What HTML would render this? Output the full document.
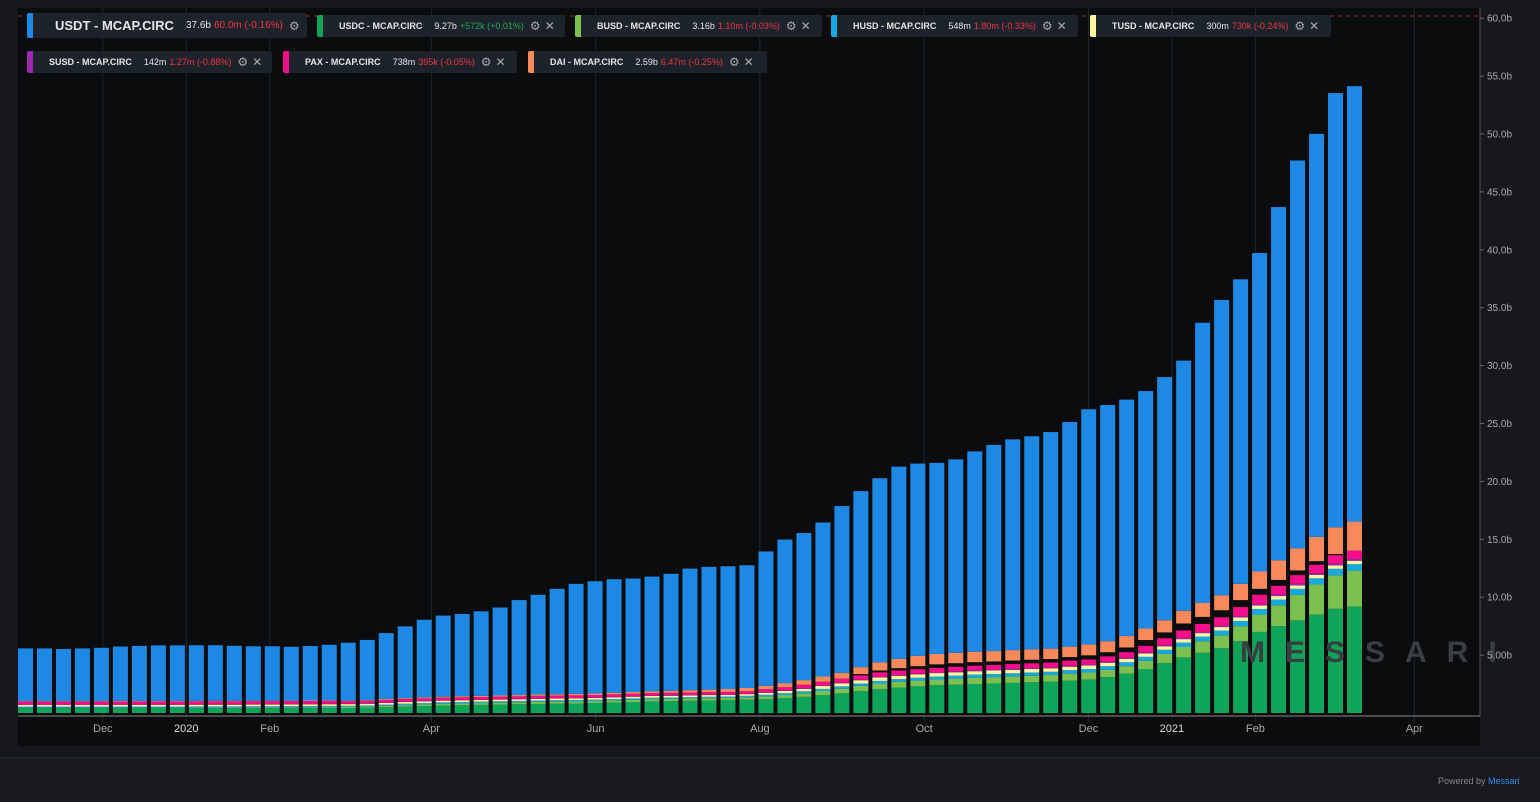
<!DOCTYPE html>
<html><head><meta charset="utf-8"><style>
body{margin:0;width:1540px;height:802px;background:#16181d;font-family:"Liberation Sans",sans-serif;overflow:hidden;position:relative}
.lg{position:absolute;height:22px;background:#1c232b;border-radius:2px;display:flex;align-items:center;font-size:9px;font-weight:bold;color:#e6e6e6;white-space:nowrap}
.lg .c{width:6px;height:100%;border-radius:2px 0 0 2px;margin-right:16px}
.lg .v{font-weight:normal;margin-left:12px}
.lg .r{color:#f23645;font-weight:normal;margin-left:3px}
.lg .g{color:#22ab5a;font-weight:normal;margin-left:3px}
.lg .i{color:#aaa;margin-left:6px;font-size:12px;font-weight:normal}
</style></head><body>
<svg id="chart" width="1540" height="802" style="position:absolute;left:0;top:0">
<rect x="18" y="8" width="1462" height="738" fill="#0b0c0e"/>
<rect x="0" y="758" width="1540" height="44" fill="#17191e"/>
<line x1="0" y1="758" x2="1540" y2="758" stroke="#2a2e36"/>
<g id="grid"></g>
<g id="bars"></g>
<text x="1240" y="662" font-size="30" fill="#3a3d42" letter-spacing="20" font-weight="bold">MESSARI</text>
<line x1="18" y1="16" x2="1480" y2="16" stroke="#b22a2a" stroke-dasharray="4,4"/>
<line x1="18" y1="716" x2="1480" y2="716" stroke="#888"/>
<line x1="1480" y1="8" x2="1480" y2="716" stroke="#555"/>
<g id="xt"></g><g id="yt"></g>
<text x="1438" y="784" font-size="9" fill="#888">Powered by <tspan fill="#2d8cf0">Messari</tspan></text>
</svg>

<div class="lg" style="left:27px;top:13px;width:280px;height:25px"><span class="c" style="background:#1e88e5"></span><span style="font-size:13px;margin-left:6px">USDT - MCAP.CIRC</span><span class="v" style="font-size:10px">37.6b</span><span class="r" style="font-size:10px">60.0m (-0.16%)</span><span class="i">⚙</span></div>
<div class="lg" style="left:317px;top:15px;width:248px"><span class="c" style="background:#0ea55a"></span>USDC - MCAP.CIRC<span class="v">9.27b</span><span class="g">+572k (+0.01%)</span><span class="i">⚙</span><span class="i" style="margin-left:4px">✕</span></div>
<div class="lg" style="left:575px;top:15px;width:247px"><span class="c" style="background:#7cc04f"></span>BUSD - MCAP.CIRC<span class="v">3.16b</span><span class="r">1.10m (-0.03%)</span><span class="i">⚙</span><span class="i" style="margin-left:4px">✕</span></div>
<div class="lg" style="left:831px;top:15px;width:247px"><span class="c" style="background:#15a9e0"></span>HUSD - MCAP.CIRC<span class="v">548m</span><span class="r">1.80m (-0.33%)</span><span class="i">⚙</span><span class="i" style="margin-left:4px">✕</span></div>
<div class="lg" style="left:1090px;top:15px;width:241px"><span class="c" style="background:#fff59d"></span>TUSD - MCAP.CIRC<span class="v">300m</span><span class="r">730k (-0.24%)</span><span class="i">⚙</span><span class="i" style="margin-left:4px">✕</span></div>
<div class="lg" style="left:27px;top:51px;width:245px"><span class="c" style="background:#9c27b0"></span>SUSD - MCAP.CIRC<span class="v">142m</span><span class="r">1.27m (-0.88%)</span><span class="i">⚙</span><span class="i" style="margin-left:4px">✕</span></div>
<div class="lg" style="left:283px;top:51px;width:234px"><span class="c" style="background:#f50d8a"></span>PAX - MCAP.CIRC<span class="v">738m</span><span class="r">395k (-0.05%)</span><span class="i">⚙</span><span class="i" style="margin-left:4px">✕</span></div>
<div class="lg" style="left:528px;top:51px;width:239px"><span class="c" style="background:#f7895a"></span>DAI - MCAP.CIRC<span class="v">2.59b</span><span class="r">6.47m (-0.25%)</span><span class="i">⚙</span><span class="i" style="margin-left:4px">✕</span></div>

<script>
const NS="http://www.w3.org/2000/svg";
const weeks=71; // weekly points starting 2019-11-01
const usdc=[0.42,0.42,0.42,0.42,0.42,0.42,0.42,0.42,0.42,0.42,0.42,0.42,0.42,0.42,0.42,0.42,0.42,0.42,0.45,0.5,0.55,0.6,0.65,0.68,0.7,0.72,0.75,0.78,0.8,0.82,0.85,0.9,0.95,1.0,1.02,1.05,1.08,1.1,1.15,1.2,1.3,1.4,1.55,1.7,1.9,2.05,2.2,2.3,2.4,2.45,2.5,2.55,2.6,2.65,2.7,2.8,2.9,3.1,3.4,3.8,4.3,4.8,5.2,5.6,6.2,7.0,7.5,8.0,8.5,9.0,9.2];
const busd=[0.03,0.03,0.03,0.03,0.03,0.04,0.04,0.04,0.04,0.05,0.05,0.05,0.06,0.06,0.07,0.08,0.09,0.1,0.1,0.12,0.13,0.14,0.15,0.15,0.16,0.17,0.17,0.18,0.18,0.18,0.18,0.19,0.19,0.2,0.2,0.2,0.2,0.2,0.21,0.22,0.25,0.3,0.35,0.4,0.45,0.5,0.5,0.5,0.5,0.52,0.55,0.55,0.56,0.57,0.58,0.6,0.6,0.62,0.65,0.7,0.8,0.9,1.0,1.1,1.3,1.5,1.8,2.2,2.6,2.9,3.1];
const husd=[0.1,0.1,0.1,0.1,0.1,0.1,0.1,0.1,0.1,0.1,0.1,0.1,0.1,0.1,0.1,0.1,0.1,0.1,0.1,0.1,0.12,0.12,0.12,0.12,0.12,0.12,0.12,0.12,0.12,0.12,0.12,0.12,0.12,0.12,0.12,0.12,0.12,0.12,0.12,0.15,0.16,0.17,0.18,0.2,0.2,0.22,0.22,0.24,0.25,0.25,0.26,0.27,0.27,0.28,0.28,0.3,0.3,0.32,0.33,0.35,0.36,0.38,0.4,0.42,0.45,0.48,0.5,0.52,0.53,0.55,0.55];
const tusd=[0.15,0.15,0.15,0.15,0.15,0.15,0.15,0.15,0.15,0.15,0.15,0.15,0.15,0.15,0.15,0.15,0.15,0.15,0.15,0.15,0.15,0.15,0.15,0.15,0.15,0.15,0.15,0.15,0.15,0.15,0.15,0.15,0.15,0.15,0.15,0.15,0.15,0.15,0.15,0.18,0.2,0.22,0.25,0.27,0.28,0.3,0.3,0.3,0.3,0.3,0.3,0.3,0.3,0.3,0.3,0.3,0.3,0.3,0.3,0.3,0.3,0.3,0.3,0.3,0.3,0.3,0.3,0.3,0.3,0.3,0.3];
const susd=[0.03,0.03,0.03,0.03,0.03,0.03,0.03,0.03,0.03,0.03,0.03,0.03,0.03,0.03,0.03,0.03,0.03,0.03,0.03,0.03,0.03,0.03,0.03,0.03,0.03,0.03,0.03,0.03,0.03,0.03,0.03,0.03,0.03,0.03,0.03,0.03,0.03,0.03,0.03,0.05,0.05,0.05,0.05,0.05,0.05,0.05,0.05,0.05,0.05,0.08,0.08,0.08,0.08,0.08,0.08,0.08,0.08,0.08,0.08,0.1,0.1,0.1,0.1,0.1,0.1,0.14,0.14,0.14,0.14,0.14,0.14];
const pax=[0.25,0.25,0.25,0.25,0.25,0.25,0.25,0.25,0.25,0.25,0.25,0.25,0.25,0.25,0.25,0.25,0.25,0.22,0.22,0.22,0.22,0.22,0.22,0.22,0.22,0.22,0.22,0.22,0.22,0.22,0.22,0.22,0.22,0.22,0.22,0.22,0.22,0.22,0.22,0.25,0.27,0.3,0.32,0.35,0.38,0.4,0.4,0.4,0.4,0.4,0.4,0.4,0.42,0.42,0.42,0.45,0.45,0.48,0.5,0.55,0.6,0.65,0.7,0.75,0.8,0.8,0.75,0.75,0.74,0.74,0.74];
const gap=[0,0,0,0,0,0,0,0,0,0,0,0,0,0,0,0,0,0,0,0,0,0,0,0,0,0,0,0,0,0,0,0,0,0,0,0,0,0,0,0,0,0,0,0,0.1,0.15,0.2,0.25,0.3,0.3,0.3,0.3,0.3,0.3,0.3,0.3,0.35,0.35,0.4,0.5,0.5,0.6,0.6,0.6,0.6,0.5,0.5,0.4,0.3,0.1,0];
const dai=[0.05,0.05,0.05,0.05,0.05,0.05,0.05,0.05,0.05,0.05,0.05,0.05,0.05,0.05,0.05,0.05,0.05,0.05,0.06,0.08,0.08,0.09,0.09,0.1,0.1,0.1,0.11,0.12,0.12,0.13,0.13,0.14,0.15,0.16,0.18,0.2,0.22,0.25,0.28,0.3,0.35,0.4,0.45,0.5,0.6,0.7,0.8,0.9,0.9,0.9,0.9,0.9,0.9,0.9,0.9,0.9,0.95,0.95,1.0,1.0,1.05,1.1,1.2,1.3,1.4,1.5,1.7,1.9,2.1,2.3,2.5,2.59];
const usdt=[4.55,4.55,4.5,4.55,4.6,4.7,4.75,4.8,4.8,4.8,4.8,4.75,4.7,4.7,4.65,4.7,4.8,5.0,5.2,5.7,6.2,6.7,7.0,7.1,7.3,7.6,8.2,8.6,9.1,9.5,9.7,9.8,9.8,9.9,10.1,10.5,10.6,10.6,10.6,11.6,12.4,12.7,13.3,14.4,15.2,15.9,16.6,16.6,16.5,16.7,17.3,17.8,18.2,18.4,18.7,19.4,20.3,20.4,20.4,20.5,21.0,21.6,24.2,25.5,26.3,27.5,30.5,33.5,34.8,37.5,37.6];
const yTicks=[5,10,15,20,25,30,35,40,45,50,55,60];
const xTickLabels=["Dec","2020","Feb","Apr","Jun","Aug","Oct","Dec","2021","Feb","Apr"];
const xTickDays=[30,61,92,152,213,274,335,396,427,458,517];

const y=v=>713-v*57.9/5;
const xd=d=>22+d*2.693;
const series=[["usdc",usdc,"#0ea55a"],["busd",busd,"#7cc04f"],["husd",husd,"#15a9e0"],["tusd",tusd,"#fff59d"],["susd",susd,"#9c27b0"],["pax",pax,"#f50d8a"],["gap",gap,"#0b0c0e"],["dai",dai,"#f7895a"],["usdt",usdt,"#1e88e5"]];
const grid=document.getElementById('grid'),bars=document.getElementById('bars'),xt=document.getElementById('xt'),yt=document.getElementById('yt');
xTickDays.forEach((d,i)=>{
 const X=xd(d);
 const l=document.createElementNS(NS,'line');
 l.setAttribute('x1',X);l.setAttribute('x2',X);l.setAttribute('y1',8);l.setAttribute('y2',722);l.setAttribute('stroke','#1d2833');
 
 
 grid.appendChild(l);
 const t=document.createElementNS(NS,'text');
 t.setAttribute('x',X);t.setAttribute('y',732);t.setAttribute('text-anchor','middle');t.setAttribute('font-size','11');t.setAttribute('fill',xTickLabels[i].length==4?'#ddd':'#aaa');
 t.textContent=xTickLabels[i];
 
 
 xt.appendChild(t);
});
yTicks.forEach(v=>{
 const t=document.createElementNS(NS,'text');
 t.setAttribute('x',1487);t.setAttribute('y',y(v)+3.5);t.setAttribute('font-size','10');t.setAttribute('fill','#aaa');
 t.textContent=v<10?v.toFixed(2)+'b':v.toFixed(1)+'b';
 
 
 yt.appendChild(t);
 const k=document.createElementNS(NS,'line');
 k.setAttribute('x1',1480);k.setAttribute('x2',1484);k.setAttribute('y1',y(v));k.setAttribute('y2',y(v));k.setAttribute('stroke','#666');
 
 
 yt.appendChild(k);
});
const pitch=(1366-18)/weeks;
for(let i=0;i<weeks;i++){
 let base=0;
 const X=18+i*pitch;
 series.forEach(([n,arr,c])=>{
  const v=arr[i];
  const r=document.createElementNS(NS,'rect');
  r.setAttribute('x',X);r.setAttribute('width',pitch-4);
  r.setAttribute('y',y(base+v));r.setAttribute('height',Math.max(0,y(base)-y(base+v)));
  r.setAttribute('fill',c);
  
  
  bars.appendChild(r);
  base+=v;
 });
}
</script>
</body></html>
